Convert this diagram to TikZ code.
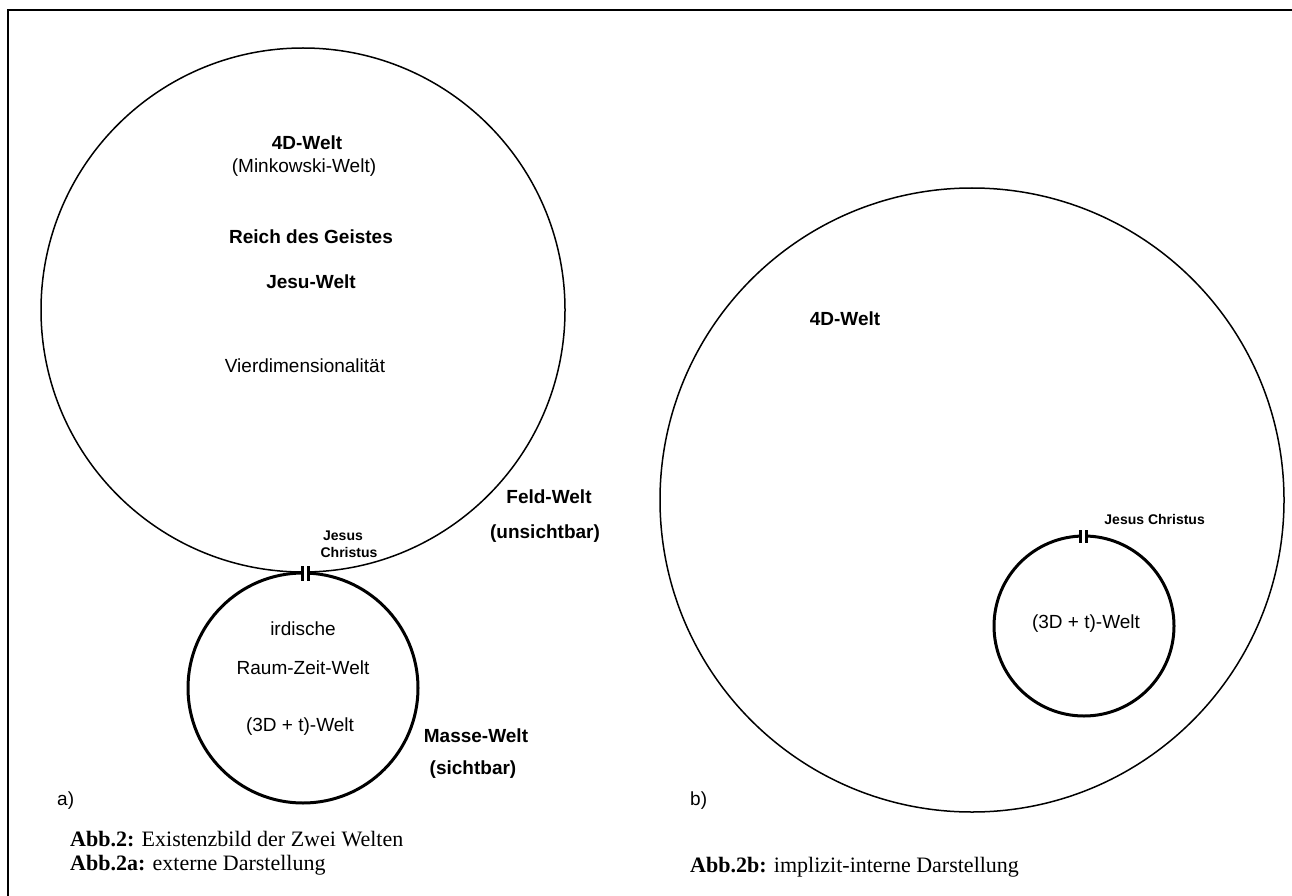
\documentclass[tikz,border=0pt]{standalone}
\usepackage{fontspec}
\setmainfont{Liberation Sans}
\newfontfamily\capfont{Liberation Serif}
\begin{document}
\begin{tikzpicture}[x=1pt,y=-1pt,
  lbl/.style={font=\fontsize{19}{22}\selectfont, anchor=base, inner sep=0pt},
  blbl/.style={font=\fontsize{19}{22}\selectfont\bfseries, anchor=base, inner sep=0pt},
  smalllbl/.style={font=\fontsize{14}{16}\selectfont\bfseries, anchor=base, inner sep=0pt},
  caplbl/.style={font=\capfont\fontsize{22}{26}\selectfont, anchor=base west, inner sep=0pt},
  thinworld/.style={circle, draw, line width=1.5pt, inner sep=0pt, outer sep=0pt},
  thickworld/.style={circle, draw, line width=3pt, inner sep=0pt, outer sep=0pt},
  bar/.style={line width=3pt},
  gapfill/.style={fill=white, draw=none}]
\useasboundingbox (0,0) rectangle (1292,896);
% frame
\coordinate (fbl) at (8,896);
\coordinate (ftl) at (8,10);
\coordinate (ftr) at (1292,10);
\draw[line width=2.5pt] (fbl) -- (ftl) -- (ftr);

% ---------- a) ----------
\node[thinworld, minimum size=524pt] (A) at (303,310) {};
\node[thickworld, minimum size=230pt] (Aa) at (303,688) {};
% contact mark
\fill[gapfill] (301.5,565) rectangle (309.5,582);
\draw[bar] (302.5,566) -- (302.5,581);
\draw[bar] (308.5,566) -- (308.5,581);

\node[blbl] (t4d) at (307,150) {4D-Welt};
\node[lbl] (tmink) at (304,172) {(Minkowski-Welt)};
\node[blbl] (treich) at (311,243) {Reich des Geistes};
\node[blbl] (tjesu) at (311,288) {Jesu-Welt};
\node[lbl] (tvier) at (305,372) {Vierdimensionalität};
\node[blbl] (tfeld) at (549,503) {Feld-Welt};
\node[blbl] (tuns) at (545,538) {(unsichtbar)};
\node[smalllbl] (tjesus) at (343,540) {Jesus};
\node[smalllbl] (tchr) at (349,557) {Christus};
\node[lbl] (tird) at (303,635) {irdische};
\node[lbl] (traum) at (303,674) {Raum-Zeit-Welt};
\node[lbl] (t3da) at (300,731) {(3D + t)-Welt};
\node[blbl] (tmasse) at (476,742) {Masse-Welt};
\node[blbl] (tsicht) at (473,774) {(sichtbar)};
\node[lbl, anchor=base west] (ta) at (57,805) {a)};

% ---------- b) ----------
\node[thinworld, minimum size=624pt] (B) at (972,500) {};
\node[thickworld, minimum size=180pt] (Bb) at (1084,626) {};
\fill[gapfill] (1079.5,529) rectangle (1087.5,544);
\draw[bar] (1080.5,530) -- (1080.5,543);
\draw[bar] (1086.5,530) -- (1086.5,543);
\node[blbl] (t4db) at (845,325) {4D-Welt};
\node[smalllbl, anchor=base east] (tjcb) at (1205,524) {Jesus Christus};
\node[lbl] (t3db) at (1086,628) {(3D + t)-Welt};
\node[lbl, anchor=base west] (tb) at (690,805) {b)};

% ---------- captions ----------
\node[caplbl] (cap1) at (70,846) {\textbf{Abb.2:} Existenzbild der Zwei Welten};
\node[caplbl] (cap2) at (70,870) {\textbf{Abb.2a:} externe Darstellung};
\node[caplbl] (cap3) at (690,872) {\textbf{Abb.2b:} implizit-interne Darstellung};
\end{tikzpicture}
\end{document}
